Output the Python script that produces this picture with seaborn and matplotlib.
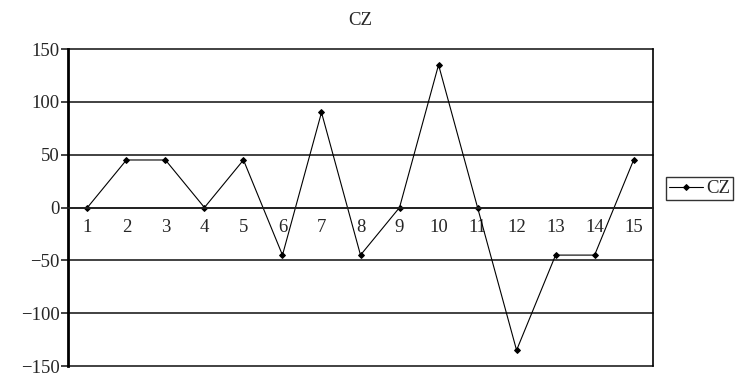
import numpy as np
import pandas as pd
import matplotlib
matplotlib.use("Agg")
import matplotlib.pyplot as plt
import seaborn as sns

categories = [str(i) for i in range(1, 16)]
cz_values = [0, 45, 45, 0, 45, -45, 90, -45, 0, 135, 0, -135, -45, -45, 45]
y_ticks = [-150, -100, -50, 0, 50, 100, 150]


def main():
    sns.set_style("white")
    plt.rcParams['font.family'] = ['Liberation Serif', 'DejaVu Serif']
    plt.rcParams['font.size'] = 13.5

    df = pd.DataFrame({'pos': np.arange(len(categories)), 'CZ': cz_values})

    fig = plt.figure(figsize=(7.38, 3.77), dpi=100)
    ax = fig.add_axes([0.092, 0.029, 0.793, 0.841])

    sns.lineplot(data=df, x='pos', y='CZ', ax=ax, color='black', linewidth=0.8,
                 marker='D', markersize=3, markeredgecolor='black', label='CZ')

    ax.set_xlim(-0.5, len(categories) - 0.5)
    ax.set_ylim(-150, 150)
    ax.set_yticks(y_ticks)
    ax.set_yticklabels([str(v).replace('-', '\u2212') for v in y_ticks])
    ax.yaxis.grid(True, color='#333333', linewidth=1.3)
    for gl in ax.get_ygridlines():
        gl.set_clip_on(False)
    ax.set_axisbelow(True)

    # category axis sits on the zero line
    ax.spines['bottom'].set_position(('data', 0))
    ax.spines['bottom'].set_linewidth(1.3)
    ax.spines['bottom'].set_color('#222222')
    ax.spines['top'].set_visible(False)
    ax.spines['right'].set_color('black')
    ax.spines['right'].set_linewidth(1.2)
    ax.spines['left'].set_linewidth(2.0)
    ax.spines['left'].set_color('black')

    ax.set_xticks(np.arange(len(categories)))
    ax.set_xticklabels(categories)
    ax.set_xticks(np.arange(len(categories) + 1) - 0.5, minor=True)
    ax.tick_params(axis='x', which='major', length=0, pad=8, labelsize=13.5)
    ax.tick_params(axis='x', which='minor', length=5, width=1.2, direction='out', color='#222222')
    ax.tick_params(axis='y', length=5, width=1.2, direction='out', left=True, color='#222222',
                   labelsize=13.5, pad=1)
    ax.set_xlabel('')
    ax.set_ylabel('')

    ax.set_title('CZ', fontsize=13.5, pad=17)

    leg = ax.legend(loc='center left', bbox_to_anchor=(1.022, 0.56), frameon=True, fancybox=False,
                    edgecolor='black', handlelength=1.8, handletextpad=0.2, borderpad=0.15,
                    borderaxespad=0, fontsize=13.5)
    leg.get_frame().set_linewidth(1.0)

    fig.savefig('out.png', dpi=100)
    plt.close(fig)


if __name__ == "__main__":
    main()
